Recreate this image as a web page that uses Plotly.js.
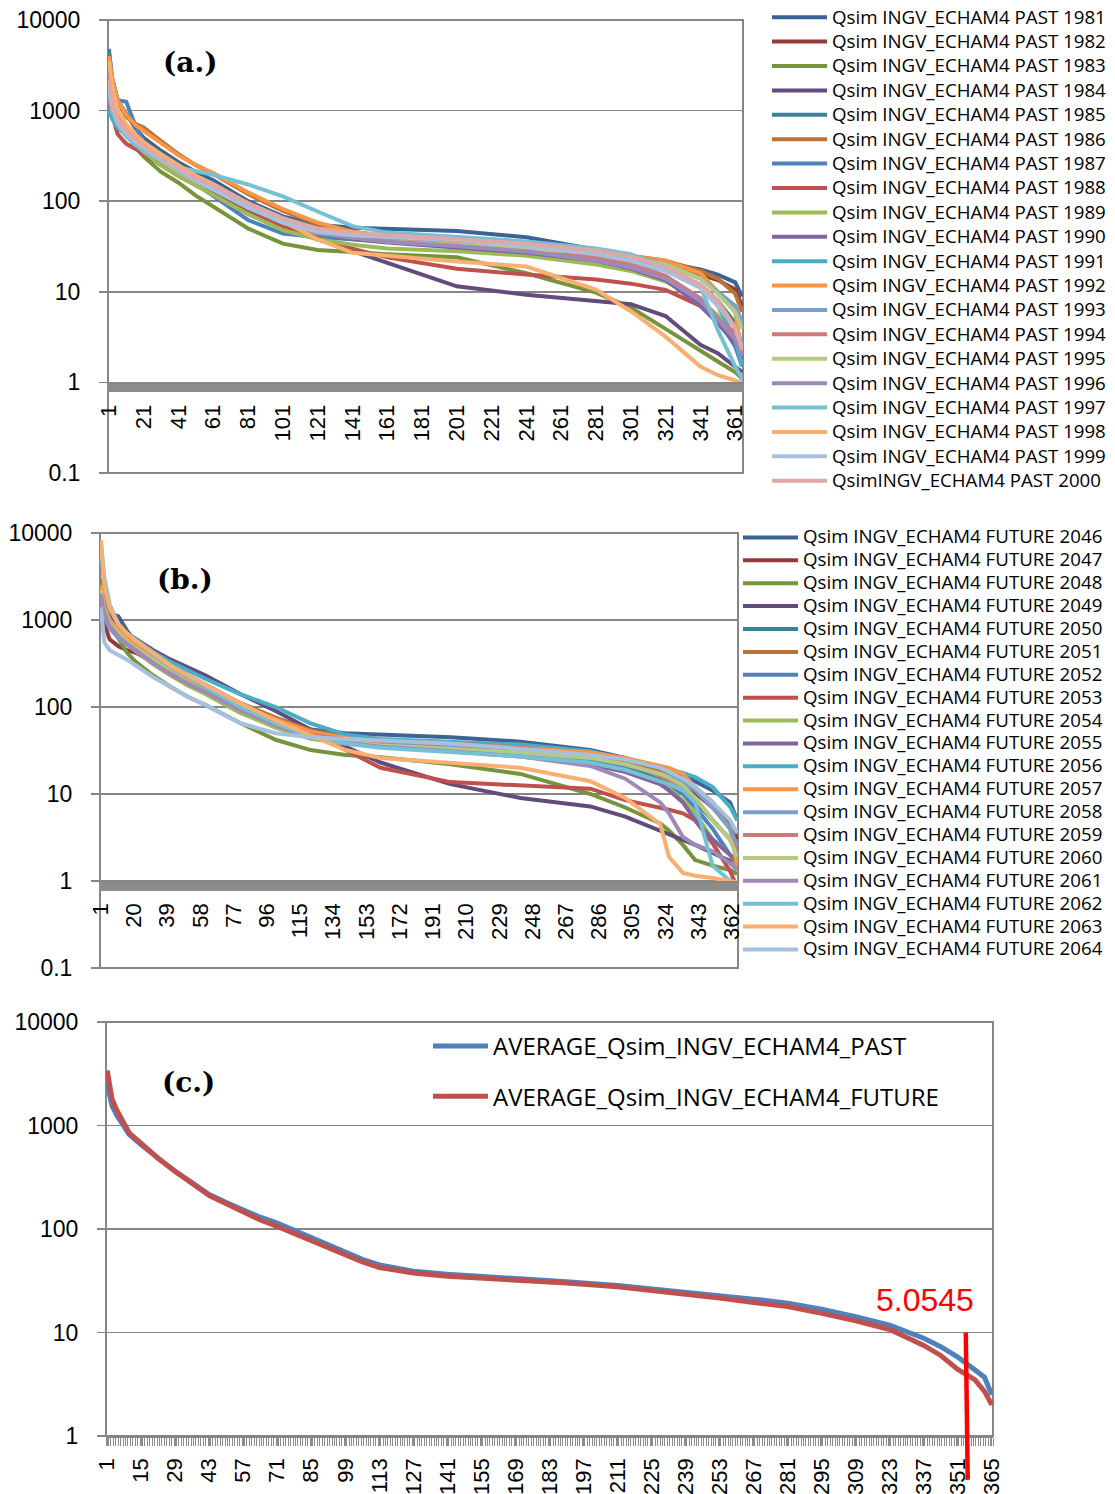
<!DOCTYPE html>
<html><head><meta charset="utf-8">
<script src="https://cdn.plot.ly/plotly-3.0.1.min.js"></script>
<style>html,body{margin:0;padding:0;background:#fff}</style>
</head><body><div id="chart" style="width:1115px;height:1494px"></div>
<script>
// ---------- DATA ----------
// Panel (a): flow duration curves, PAST years (sampled days of the sorted year)
const daysA = [1,3,6,11,16,21,31,41,51,61,81,101,121,141,161,201,241,281,301,321,341,351,361,365];
const namesA = ['Qsim INGV_ECHAM4 PAST 1981','Qsim INGV_ECHAM4 PAST 1982','Qsim INGV_ECHAM4 PAST 1983','Qsim INGV_ECHAM4 PAST 1984','Qsim INGV_ECHAM4 PAST 1985','Qsim INGV_ECHAM4 PAST 1986','Qsim INGV_ECHAM4 PAST 1987','Qsim INGV_ECHAM4 PAST 1988','Qsim INGV_ECHAM4 PAST 1989','Qsim INGV_ECHAM4 PAST 1990','Qsim INGV_ECHAM4 PAST 1991','Qsim INGV_ECHAM4 PAST 1992','Qsim INGV_ECHAM4 PAST 1993','Qsim INGV_ECHAM4 PAST 1994','Qsim INGV_ECHAM4 PAST 1995','Qsim INGV_ECHAM4 PAST 1996','Qsim INGV_ECHAM4 PAST 1997','Qsim INGV_ECHAM4 PAST 1998','Qsim INGV_ECHAM4 PAST 1999','QsimINGV_ECHAM4 PAST 2000'];
const past1981 = [4500,2200,1300,900,650,500,360,270,210,170,100,68,55,51,50,47,40,29.5,25,21,17.6,15.5,12.7,8.9];
const past1982 = [2500,1400,900,620,480,380,270,200,160,130,82,58,45,41,39,36,32,27,24,20.5,15.5,13.5,10.6,6.9];
const past1983 = [3000,1500,850,560,400,310,210,160,115,88,50,34,29,27.5,26,24,16,9.8,6.7,3.9,2.2,1.7,1.3,1.1];
const past1984 = [2500,1300,800,560,430,360,270,205,165,130,78,52,38,28,21,11.5,9.3,8,7.3,5.4,2.6,2.1,1.5,1.3];
const past1985 = [4800,2000,1000,620,460,370,270,210,170,140,88,60,46,41,38,34,30,25,22,18,12,8,4.5,2.5];
const past1986 = [3500,2200,1300,850,720,650,460,330,250,200,120,78,56,46,41,36,32,28,25,22,17,14,9.5,6];
const past1987 = [2800,1800,1300,1250,700,450,300,220,155,115,62,44,40,38,37,34,30,24,20,14,8,5,2.5,1.5];
const past1988 = [1500,900,550,430,380,330,250,190,150,120,75,52,40,30,24,18,15.5,13.7,12.3,10.5,7,5,3.5,2.5];
const past1989 = [2500,1300,800,560,430,350,250,190,150,118,72,48,38,33,30,28,25,20,17,13,8,5.5,3,2];
const past1990 = [2200,1200,780,580,460,380,280,210,165,135,85,58,44,38,35,31,27,22,18,13.5,7,4.5,2.7,1.8];
const past1991 = [1000,800,650,520,430,370,280,215,170,140,88,58,44,40,36,32,28,24,21,17,12,7,3,1.5];
const past1992 = [4000,2200,1300,900,700,600,440,320,250,205,125,82,58,46,40,36,32,28,25,22,16,10,6,2];
const past1993 = [2000,1200,800,600,480,400,300,230,180,150,95,65,48,42,40,37,33,28,25,20,14,10,7,4.6];
const past1994 = [2500,1300,850,620,500,420,300,230,180,145,90,62,46,40,37,34,30,24,20,15,8.5,5,3.5,2.5];
const past1995 = [1800,1100,750,560,450,380,280,210,165,135,85,58,45,40,36,33,30,27,24,20,14,9.5,6,3.9];
const past1996 = [2200,1200,800,600,470,400,290,220,170,140,88,60,45,40,36,32,28,22,18.5,14,8,5,3,2];
const past1997 = [1500,1000,700,520,420,360,285,235,215,195,153,113,77,53,45,40,36,30,26,18,11.5,3.8,1.5,1.1];
const past1998 = [3500,1800,1000,700,550,450,330,250,190,155,95,60,38,27,25,21.6,19,10.6,6.1,3.2,1.5,1.2,1.05,1.0];
const past1999 = [1800,1100,750,560,460,390,290,220,170,135,85,58,46,42,40,37,32,26,22,17,11,7,4,2.5];
const past2000 = [2200,1200,800,600,480,400,300,230,180,150,95,65,50,45,42,38,34,28.5,24.5,19,12,8,4,2.3];
const pastValues = [past1981,past1982,past1983,past1984,past1985,past1986,past1987,past1988,past1989,past1990,past1991,past1992,past1993,past1994,past1995,past1996,past1997,past1998,past1999,past2000];
const xTicksA = [1,21,41,61,81,101,121,141,161,181,201,221,241,261,281,301,321,341,361];

// Panel (b): FUTURE years
const daysB = [1,3,6,11,16,21,31,41,51,61,81,101,121,141,161,201,241,281,301,321,326,334,341,351,361,365];
const namesB = ['Qsim INGV_ECHAM4 FUTURE 2046','Qsim INGV_ECHAM4 FUTURE 2047','Qsim INGV_ECHAM4 FUTURE 2048','Qsim INGV_ECHAM4 FUTURE 2049','Qsim INGV_ECHAM4 FUTURE 2050','Qsim INGV_ECHAM4 FUTURE 2051','Qsim INGV_ECHAM4 FUTURE 2052','Qsim INGV_ECHAM4 FUTURE 2053','Qsim INGV_ECHAM4 FUTURE 2054','Qsim INGV_ECHAM4 FUTURE 2055','Qsim INGV_ECHAM4 FUTURE 2056','Qsim INGV_ECHAM4 FUTURE 2057','Qsim INGV_ECHAM4 FUTURE 2058','Qsim INGV_ECHAM4 FUTURE 2059','Qsim INGV_ECHAM4 FUTURE 2060','Qsim INGV_ECHAM4 FUTURE 2061','Qsim INGV_ECHAM4 FUTURE 2062','Qsim INGV_ECHAM4 FUTURE 2063','Qsim INGV_ECHAM4 FUTURE 2064'];
const fut2046 = [2500,1500,1200,1100,750,560,400,300,230,180,110,75,55,50,48,45,40,32,26,20,19,16.5,14,11,8,5];
const fut2047 = [1500,900,600,500,450,420,330,260,200,160,100,70,50,42,38,34,30,26,22,17,16,13,10.3,7,4.5,3.0];
const fut2048 = [3000,1400,900,600,420,330,230,170,130,105,65,42,32,28,26.5,22,17,10,7,4.6,3.8,2.6,1.74,1.5,1.34,1.2];
const fut2049 = [2500,1500,1100,850,700,600,450,350,280,230,140,90,55,35,23,13,9,7.2,5.5,3.8,3.5,3.0,2.6,2.1,1.7,1.5];
const fut2050 = [2000,1300,950,750,620,530,380,280,210,165,100,68,50,42,38,33,29,24,20,15,13,10.5,8,5,3,2];
const fut2051 = [2500,1500,1000,780,640,550,390,290,220,175,110,75,54,45,41,37,33,28,24,19,17.5,15,12,8,4,2.5];
const fut2052 = [2200,1400,1000,780,640,540,380,280,210,160,95,62,45,40,37,34,30,25,20,14,12.5,10,7,4,2,1.5];
const fut2053 = [1800,1100,850,700,600,520,380,290,220,170,105,72,50,32,20,13.7,12.5,11.5,8.5,7,6.6,6,5,2.7,1.3,0.85];
const fut2054 = [2000,1200,850,650,520,440,310,230,175,140,85,58,43,38,35,31,27,22,18,13,11.5,8.5,6,3,2,1.5];
const fut2055 = [2000,1200,850,660,540,460,330,250,190,150,92,62,46,40,36,32,28,22,18,13,11,8,5,3,2,1.6];
const fut2056 = [6000,2500,1300,900,700,600,430,330,260,210,140,100,65,48,43,40,37,31,25,20,19,17.5,15.7,12,7.1,5.0];
const fut2057 = [2500,1400,1000,760,620,520,370,280,210,170,105,72,52,44,40,37,34,30,26,21,20,17,12,7,4,1.5];
const fut2058 = [1800,1100,800,620,520,440,320,240,185,150,95,65,48,42,38,34,30,26,22,17,16,13.5,11,7,4,2.5];
const fut2059 = [2000,1200,850,650,530,450,320,240,185,150,95,66,48,42,40,38.6,34,26.5,23,16,14.5,12,9,5,3,2.3];
const fut2060 = [2200,1300,900,700,560,470,340,250,190,150,92,62,46,40,36,33,30,26,22,17,15.5,12.5,9,5,3,1.9];
const fut2061 = [2000,1200,850,650,530,450,320,240,185,148,92,62,45,39,35,31,27,21,15,8,6,3.2,2.6,2.2,1.6,1.34];
const fut2062 = [8000,3000,1500,900,700,580,400,290,220,170,100,65,45,38,34,30,27,23,19,14,13,11,8,1.5,1.0,0.79];
const fut2063 = [8300,2500,1400,900,700,580,420,300,230,180,110,70,48,32,26,23,20,14,9,4.5,1.9,1.24,1.15,1.08,1.0,0.97];
const fut2064 = [1400,550,450,400,350,300,220,170,130,105,65,50,45,43,41,38,33,28,25,20,18,15,12,8,5,3.56];
const futValues = [fut2046,fut2047,fut2048,fut2049,fut2050,fut2051,fut2052,fut2053,fut2054,fut2055,fut2056,fut2057,fut2058,fut2059,fut2060,fut2061,fut2062,fut2063,fut2064];
const xTicksB = [1,20,39,58,77,96,115,134,153,172,191,210,229,248,267,286,305,324,343,362];

// Panel (c): averages
const daysC = [1,2,3,5,8,10,15,22,29,36,43,50,57,64,71,78,85,92,99,106,113,120,127,141,155,169,190,211,232,253,267,281,295,309,323,337,344,351,358,362,365];
const avgPast = [2500,1900,1550,1250,950,820,650,480,360,280,215,180,152,130,114,97,82,69,59,51,45,41.5,39,36.5,35,33.5,31,28.5,25.5,23,21,19.2,16.8,14.2,11.8,8.8,7.3,5.8,4.4,3.7,2.5];
const avgFuture = [3400,2400,1800,1400,1000,850,670,480,360,275,210,175,145,122,106,90,77,65,55,48,42.5,39.5,37.5,35,33.5,32.5,30,27.6,24.5,21.5,19.5,17.8,15.3,13,10.7,7.5,6,4.4,3.5,2.7,2.0];
const namesC = ['AVERAGE_Qsim_INGV_ECHAM4_PAST','AVERAGE_Qsim_INGV_ECHAM4_FUTURE'];
const xTicksC = [1,15,29,43,57,71,85,99,113,127,141,155,169,183,197,211,225,239,253,267,281,295,309,323,337,351,365];
const markerLabel = '5.0545';
const markerDayTop = 354.3, markerDayBottom = 355.1;
const markerLabelDay = 337.5, markerLabelValue = 20.5;

const yTickVals = [0.1,1,10,100,1000,10000];
const yTickText = ['0.1','1','10','100','1000','10000'];
const panelLabels = ['(a.)','(b.)','(c.)'];

// ---------- STYLE ----------
const colors = ['#3C6394','#943B39','#77933C','#614C7B','#398397','#BC7235','#4F81BD','#C0504D','#9BBB59','#8064A2','#4BACC6','#F79646','#799FCD','#CF7A78','#B3CB81','#9E89B8','#76C0D4','#F9AF72','#A7C0DE','#DFA7A6'];
const avgColors = ['#4F81BD','#C0504D'];
const W = 1115, H = 1494;
const grid = '#868686', tickGray = '#8c8c8c';
const legFont = 'Open Sans, sans-serif';
const hd = (a,b) => [a/W, b/W];
const vd = (top,bot) => [1-bot/H, 1-top/H];
const span = t => '<span style="font-size:18.7px">' + t + '</span>';

const traces = [];
pastValues.forEach((v,i) => traces.push({type:'scatter',mode:'lines',x:daysA,y:v,xaxis:'x',yaxis:'y',
  name:span(namesA[i]),legend:'legend',line:{color:colors[i],width:4}}));
futValues.forEach((v,i) => traces.push({type:'scatter',mode:'lines',x:daysB,y:v,xaxis:'x2',yaxis:'y2',
  name:span(namesB[i]),legend:'legend2',line:{color:colors[i],width:4}}));
[avgPast,avgFuture].forEach((v,i) => traces.push({type:'scatter',mode:'lines',x:daysC,y:v,xaxis:'x3',yaxis:'y3',
  name:namesC[i],legend:'legend3',legendgroup:'g'+i,line:{color:avgColors[i],width:5}}));

const domA = vd(20,473), domB = vd(533,968), domC = vd(1022,1436);
// paper position of value 1 on the log axes (range -1..4)
const posOne = d => d[0] + (0 - (-1))/5*(d[1]-d[0]);

function xAxis(dom, ticks, extra){
  return Object.assign({domain:dom, range:[0.5,365.5], tickmode:'array', tickvals:ticks, ticktext:ticks.map(String),
    tickangle:-90, ticks:'outside', ticklen:8, tickwidth:2, tickcolor:tickGray,
    minor:{ticks:'outside', tick0:0.5, dtick:1, ticklen:8, tickwidth:2, tickcolor:tickGray, showgrid:false},
    showgrid:false, zeroline:false, showline:true, linecolor:grid, linewidth:1.5,
    tickfont:{size:22, family:'Liberation Sans, Arial, sans-serif', color:'#000'}, ticklabelstandoff:4, fixedrange:true}, extra);
}
function yAxis(dom, range, anchor){
  return {domain:dom, type:'log', range:range, tickmode:'array', tickvals:yTickVals, ticktext:yTickText,
    ticks:'outside', ticklen:8, tickwidth:1.5, tickcolor:grid, showgrid:true, gridcolor:grid, gridwidth:1.5,
    zeroline:false, showline:false, anchor:anchor, tickfont:{size:23, family:'Liberation Sans, Arial, sans-serif', color:'#000'},
    ticklabelstandoff:14, fixedrange:true};
}
const labelFont = {family:'DejaVu Serif, serif', size:28, color:'#000'};

const layout = {
  width:W, height:H, margin:{l:0,r:0,t:0,b:0}, paper_bgcolor:'#fff', plot_bgcolor:'#fff', showlegend:true,
  font:{family:'Liberation Sans, Arial, sans-serif', color:'#000'},
  xaxis: xAxis(hd(108,743), xTicksA, {anchor:'free', position:posOne(domA)}),
  yaxis: yAxis(domA, [-1,4], 'x'),
  xaxis2: xAxis(hd(100,738), xTicksB, {anchor:'free', position:posOne(domB)}),
  yaxis2: yAxis(domB, [-1,4], 'x2'),
  xaxis3: xAxis(hd(106,993), xTicksC, {anchor:'y3', minor:{ticks:'outside', tick0:0.5, dtick:1, ticklen:8, tickwidth:1, tickcolor:tickGray, showgrid:false}, ticklen:8, tickwidth:1}),
  yaxis3: yAxis(domC, [0,4], 'x3'),
  legend: {x:767/W, y:1-0/H, xanchor:'left', yanchor:'top', bgcolor:'rgba(0,0,0,0)', borderwidth:0,
    font:{family:legFont, size:16.46, color:'#000'}, itemwidth:55, tracegroupgap:0},
  legend2: {x:738/W, y:1-521/H, xanchor:'left', yanchor:'top', bgcolor:'rgba(0,0,0,0)', borderwidth:0,
    font:{family:legFont, size:15.3, color:'#000'}, itemwidth:55, tracegroupgap:0},
  legend3: {x:428/W, y:1-1024/H, xanchor:'left', yanchor:'top', bgcolor:'rgba(0,0,0,0)', borderwidth:0,
    font:{family:legFont, size:24, color:'#000'}, itemwidth:55, traceorder:'grouped', tracegroupgap:16},
  shapes: [
    {type:'rect', xref:'x domain', yref:'y domain', x0:0, x1:1, y0:0, y1:1, line:{color:grid, width:2}, layer:'below'},
    {type:'rect', xref:'x2 domain', yref:'y2 domain', x0:0, x1:1, y0:0, y1:1, line:{color:grid, width:2}, layer:'below'},
    {type:'rect', xref:'x3 domain', yref:'y3 domain', x0:0, x1:1, y0:0, y1:1, line:{color:grid, width:2}, layer:'below'},
    {type:'line', xref:'x3', yref:'y3 domain', x0:markerDayTop, x1:markerDayBottom, y0:0.25, y1:-0.106, line:{color:'#FF0000', width:4.5}}
  ],
  annotations: [
    {text:'<b>'+panelLabels[0]+'</b>', xref:'paper', yref:'paper', x:190/W, y:1-63/H, xanchor:'center', yanchor:'middle', showarrow:false, font:labelFont},
    {text:'<b>'+panelLabels[1]+'</b>', xref:'paper', yref:'paper', x:185/W, y:1-580/H, xanchor:'center', yanchor:'middle', showarrow:false, font:labelFont},
    {text:'<b>'+panelLabels[2]+'</b>', xref:'paper', yref:'paper', x:188/W, y:1-1082/H, xanchor:'center', yanchor:'middle', showarrow:false, font:labelFont},
    {text:markerLabel, xref:'x3', yref:'y3', x:markerLabelDay, y:Math.log10(markerLabelValue), xanchor:'center', yanchor:'middle', showarrow:false, font:{family:'Liberation Sans, Arial, sans-serif', size:32, color:'#FF0000'}}
  ]
};

Plotly.newPlot('chart', traces, layout, {staticPlot:true, displayModeBar:false});
</script></body></html>
